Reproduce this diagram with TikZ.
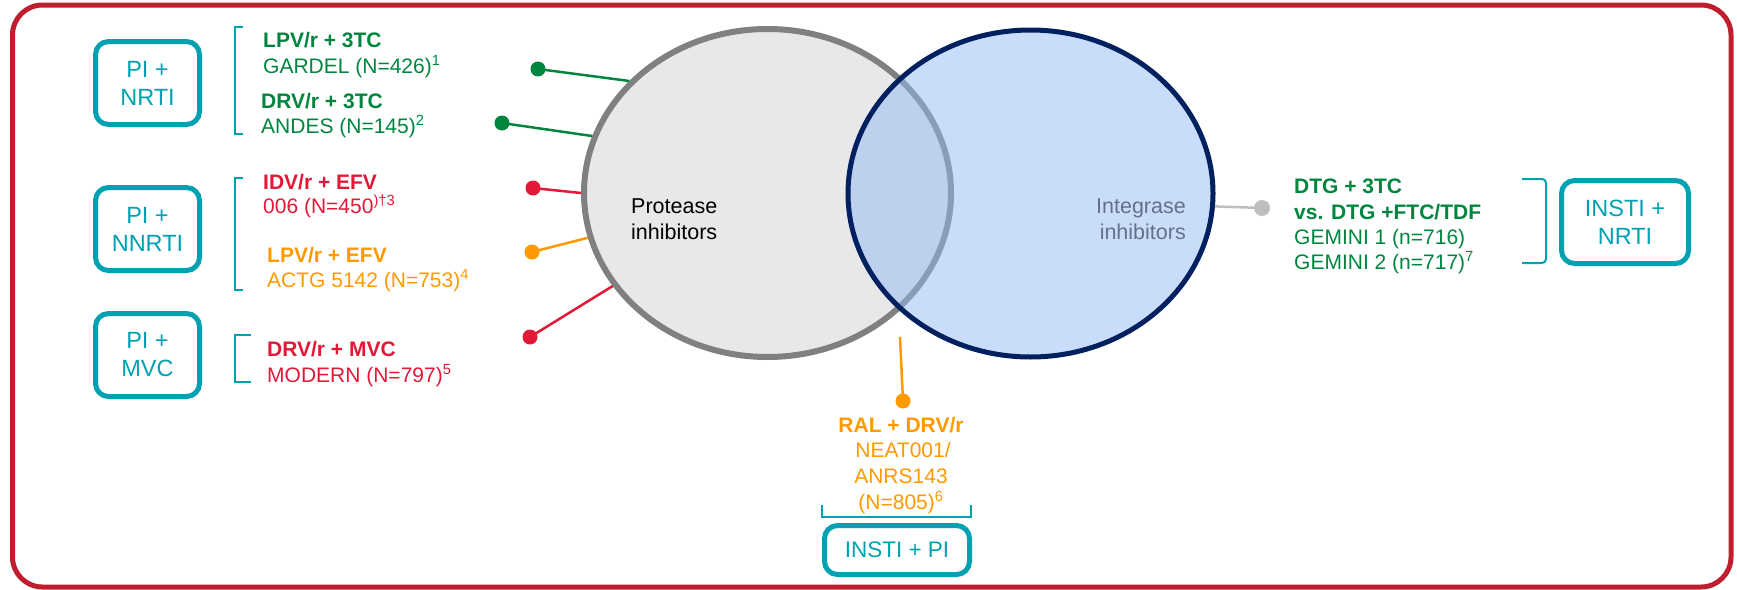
\documentclass[tikz,border=0pt]{standalone}
\usepackage{fontspec}
\setmainfont{Liberation Sans}
\usetikzlibrary{shapes.geometric}
\definecolor{framered}{RGB}{190,30,45}
\definecolor{tealc}{RGB}{0,162,178}
\definecolor{grn}{RGB}{0,133,62}
\definecolor{redc}{RGB}{227,24,55}
\definecolor{orc}{RGB}{255,153,0}
\definecolor{navyc}{RGB}{0,32,96}
\definecolor{greyfill}{RGB}{232,232,232}
\definecolor{greyline}{RGB}{128,128,128}
\definecolor{bluefill}{RGB}{147,187,245}
\definecolor{inttext}{RGB}{100,112,140}
\definecolor{dotgrey}{RGB}{190,190,190}
\begin{document}
\begin{tikzpicture}[x=1pt,y=-1pt,
  catbox/.style={draw=tealc, line width=5pt, rounded corners=13pt, text=tealc, align=center, inner sep=0pt, font=\fontsize{23.5}{28}\selectfont},
  lbl/.style={anchor=base west, inner sep=0pt, font=\fontsize{21}{25}\selectfont},
  blbl/.style={anchor=base west, inner sep=0pt, font=\fontsize{21}{25}\selectfont\bfseries},
  clbl/.style={anchor=base, inner sep=0pt, font=\fontsize{21}{25}\selectfont},
  enddot/.style={circle, inner sep=0pt, minimum size=15pt},
  conn/.style={line width=2.5pt},
  brk/.style={draw=tealc, line width=2pt},
  ctext/.style={inner sep=0pt, font=\fontsize{21.5}{26}\selectfont}
]
\useasboundingbox (0,0) rectangle (1737,589);
% frame
\draw[framered, line width=5pt, rounded corners=30pt] (12.5,5) rectangle (1731,587);

% ellipses
\node[ellipse, draw=greyline, fill=greyfill, line width=6pt, minimum width=367pt, minimum height=328pt, inner sep=0pt] (pi) at (767.5,193) {};
\node[ellipse, draw=navyc, fill=bluefill, fill opacity=0.5, draw opacity=1, line width=5pt, minimum width=365pt, minimum height=327pt, inner sep=0pt] (insti) at (1030.5,193.5) {};

\node[ctext, anchor=base west] (pt1) at (631,213) {Protease};
\node[ctext, anchor=base west] (pt2) at (631,239) {inhibitors};
\node[ctext, anchor=base east, text=inttext] (it1) at (1186,213) {Integrase};
\node[ctext, anchor=base east, text=inttext] (it2) at (1186,239) {inhibitors};

% category boxes
\node[catbox, minimum width=104pt, minimum height=83pt] (b1) at (147.5,83) {PI +\\NRTI};
\node[catbox, minimum width=104pt, minimum height=83pt] (b2) at (147.5,229) {PI +\\NNRTI};
\node[catbox, minimum width=104pt, minimum height=83pt] (b3) at (147.5,355) {PI +\\MVC};
\node[catbox, minimum width=127pt, minimum height=83pt] (b4) at (1625,222) {INSTI +\\NRTI};
\node[catbox, minimum width=145pt, minimum height=49pt, font=\fontsize{22.5}{27}\selectfont] (b5) at (897,550) {INSTI + PI};

% brackets
\draw[brk] (243,27) -- (235,27) -- (235,134) -- (243,134);
\draw[brk] (243,178) -- (235,178) -- (235,290) -- (243,290);
\draw[brk] (251,335) -- (235,335) -- (235,382) -- (251,382);
\draw[brk, rounded corners=4pt] (1522,179) -- (1546,179) -- (1546,263) -- (1522,263);
\draw[brk] (822,505) -- (822,517) -- (971,517) -- (971,505);

% left labels
\node[blbl, text=grn] (l1a) at (263,47) {LPV/r + 3TC};
\node[lbl, text=grn] (l1b) at (263,73) {GARDEL (N=426)\textsuperscript{1}};
\node[blbl, text=grn] (l2a) at (261,108) {DRV/r + 3TC};
\node[lbl, text=grn] (l2b) at (261,133) {ANDES (N=145)\textsuperscript{2}};
\node[blbl, text=redc] (l3a) at (263,189) {IDV/r + EFV};
\node[lbl, text=redc] (l3b) at (263,213) {006 (N=450\textsuperscript{)†3}};
\node[blbl, text=orc] (l4a) at (267,262) {LPV/r + EFV};
\node[lbl, text=orc] (l4b) at (267,287) {ACTG 5142 (N=753)\textsuperscript{4}};
\node[blbl, text=redc] (l5a) at (267,356) {DRV/r + MVC};
\node[lbl, text=redc] (l5b) at (267,382) {MODERN (N=797)\textsuperscript{5}};

% right labels
\node[blbl, text=grn] (r1) at (1294,193) {DTG + 3TC};
\node[blbl, text=grn] (r2) at (1294,219) {vs. DTG +FTC/TDF};
\node[lbl, text=grn] (r3) at (1294,244) {GEMINI 1 (n=716)};
\node[lbl, text=grn] (r4) at (1294,269) {GEMINI 2 (n=717)\textsuperscript{7}};

% bottom labels
\node[clbl, text=orc, font=\fontsize{21}{25}\selectfont\bfseries] (c1) at (901,432) {RAL + DRV/r};
\node[clbl, text=orc] (c2) at (903,457) {NEAT001/};
\node[clbl, text=orc] (c3) at (901,483) {ANRS143};
\node[clbl, text=orc] (c4) at (901,509) {(N=805)\textsuperscript{6}};

% dots and connectors
\node[enddot, fill=grn] (d1) at (538,69) {};
\node[enddot, fill=grn] (d2) at (502,123) {};
\node[enddot, fill=redc] (d3) at (533,188) {};
\node[enddot, fill=orc] (d4) at (532,252) {};
\node[enddot, fill=redc] (d5) at (530,337) {};
\node[enddot, fill=orc] (d6) at (903,401) {};
\node[enddot, fill=dotgrey, minimum size=16pt] (d7) at (1262,208) {};
\coordinate (ralTop) at (900,337);

\draw[conn, grn] (d1.center) -- (pi.141.5);
\draw[conn, grn] (d2.center) -- (pi.162.1);
\draw[conn, redc] (d3.center) -- (pi.180);
\draw[conn, orc] (d4.center) -- (pi.194.4);
\draw[conn, redc] (d5.center) -- (pi.211);
\draw[conn, orc] (ralTop) -- (d6.center);
\draw[conn, dotgrey] (insti.-4.5) -- (d7.center);
\end{tikzpicture}
\end{document}
